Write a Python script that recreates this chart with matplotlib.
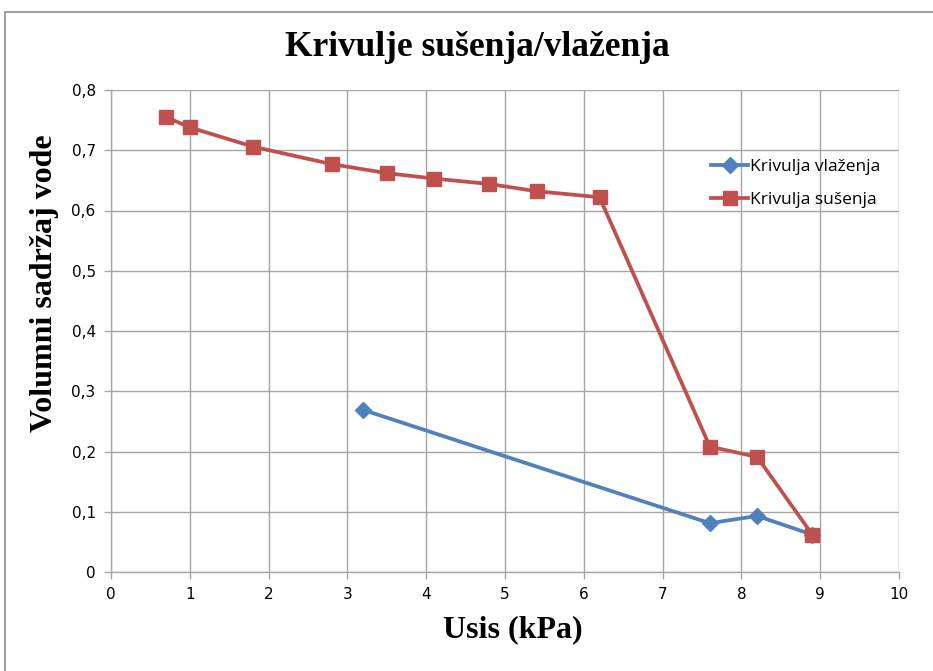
import matplotlib.pyplot as plt
from matplotlib.patches import Rectangle

# data
x_vlazenje = [3.2, 7.6, 8.2, 8.9]
y_vlazenje = [0.269, 0.081, 0.093, 0.062]

x_susenje = [0.7, 1.0, 1.8, 2.8, 3.5, 4.1, 4.8, 5.4, 6.2, 7.6, 8.2, 8.9]
y_susenje = [0.755, 0.738, 0.706, 0.677, 0.662, 0.653, 0.644, 0.632, 0.622, 0.208, 0.191, 0.062]

x_ticks = list(range(0, 11))
y_ticks = [0, 0.1, 0.2, 0.3, 0.4, 0.5, 0.6, 0.7, 0.8]
y_ticklabels = ['0', '0,1', '0,2', '0,3', '0,4', '0,5', '0,6', '0,7', '0,8']

blue = '#4F81BD'
red = '#C0504D'
grid_c = '#A6A6A6'

fig = plt.figure(figsize=(9.33, 6.71), dpi=100)
fig.patch.set_facecolor('white')
# outer chart frame
fig.add_artist(Rectangle((5 / 933, -0.01), 1.0, 1 - 12 / 671 + 0.01,
                         transform=fig.transFigure, fill=False,
                         edgecolor='#8C8C8C', lw=1.2))

ax = fig.add_axes([111 / 933, 1 - 572 / 671, (899 - 111) / 933, (572 - 90) / 671])

ax.plot(x_vlazenje, y_vlazenje, color=blue, lw=2.7, marker='D', markersize=8.5,
        label='Krivulja vlaženja', zorder=3)
ax.plot(x_susenje, y_susenje, color=red, lw=2.7, marker='s', markersize=10,
        label='Krivulja sušenja', zorder=3)

ax.set_xlim(0, 10)
ax.set_ylim(0, 0.8)
ax.set_xticks(x_ticks)
ax.set_yticks(y_ticks)
ax.set_yticklabels(y_ticklabels)
ax.grid(True, color=grid_c, lw=1.0)
ax.set_axisbelow(True)

for s in ['top', 'right']:
    ax.spines[s].set_visible(False)
for s in ['left', 'bottom']:
    ax.spines[s].set_color(grid_c)
    ax.spines[s].set_linewidth(1.0)

ax.tick_params(axis='both', colors=grid_c, length=5, width=1.0, labelcolor='black',
               labelsize=11, pad=6)

serif = ['Liberation Serif', 'DejaVu Serif']
fig.text(477 / 933, 1 - 48 / 671, 'Krivulje sušenja/vlaženja', ha='center', va='center',
         fontsize=25.5, fontweight='bold', family=serif)
fig.text(513 / 933, 1 - 630 / 671, 'Usis (kPa)', ha='center', va='center',
         fontsize=23, fontweight='bold', family=serif)
fig.text(45 / 933, 1 - 283 / 671, 'Volumni sadržaj vode', ha='center', va='center',
         rotation=90, fontsize=23, fontweight='bold', family=serif)

ax.legend(loc='upper left', bbox_to_anchor=(0.742, 0.89), frameon=False,
          handlelength=2.1, handletextpad=0.15, labelspacing=1.0,
          prop={'family': ['Open Sans', 'DejaVu Sans'], 'size': 12.5})

fig.savefig('out.png', dpi=100)
